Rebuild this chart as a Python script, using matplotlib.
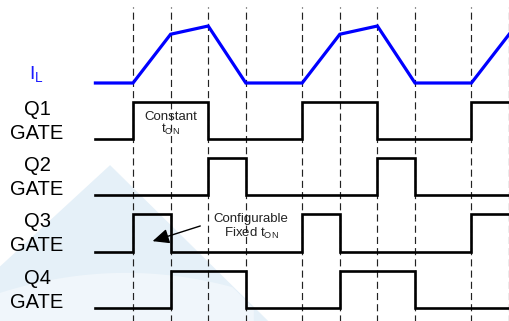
import numpy as np
import matplotlib.pyplot as plt
from matplotlib.patches import Polygon

plt.rcParams['font.family'] = ['Liberation Sans', 'DejaVu Sans']

# time axis: dashed marker positions (units of one switching step)
t_marks = [0, 1, 2, 3, 4.5, 5.5, 6.5, 7.5, 9, 10]
t_start, t_end = -1.0, 10.05

# inductor current (relative)
il_t = [-1, 0, 1, 2, 3, 4.5, 5.5, 6.5, 7.5, 9, 10.05]
il_v = [0, 0, 1.3, 1.52, 0, 0, 1.3, 1.52, 0, 0, 1.36]

# gate on-intervals
q1_on = [(0, 2), (4.5, 6.5), (9, t_end)]
q2_on = [(2, 3), (6.5, 7.5)]
q3_on = [(0, 1), (4.5, 5.5), (9, t_end)]
q4_on = [(1, 3), (5.5, 7.5)]

gates = [("Q1", q1_on), ("Q2", q2_on), ("Q3", q3_on), ("Q4", q4_on)]
row_gap = 1.5


def step_wave(on):
    xs, ys = [t_start], [0]
    for a, b in on:
        xs += [a, a, b, b]
        ys += [0, 1, 1, 0]
    if xs[-1] >= t_end:
        xs, ys = xs[:-1], ys[:-1]
    else:
        xs.append(t_end)
        ys.append(0)
    return np.array(xs), np.array(ys)


fig = plt.figure(figsize=(5.1, 3.21), dpi=100)
ax = fig.add_axes([0, 0, 1, 1])
px = 37.6
ax.set_xlim(-133 / px, (510 - 133) / px)
ax.set_ylim(-13 / 37.5, 308 / 37.5)
ax.axis('off')

# watermark
tri = Polygon([(-3.6, 1.05), (-0.61, 3.81), (3.75, -0.5), (-3.6, -0.5)],
              closed=True, color='#e5f0f8', zorder=0, lw=0)
ax.add_patch(tri)
arc_x = np.linspace(-3.6, 3.2, 60)
arc_y = 0.95 - 0.55 * ((arc_x + 0.2) / 3.4) ** 2
arc_y = np.minimum(arc_y, 3.81 - 1.0 * (arc_x + 0.61))
ax.fill_between(arc_x, -0.5, arc_y, color='#f0f6fb', zorder=0, lw=0)

# dashed time markers
for t in t_marks:
    ax.plot([t, t], [-0.5, 8.03], color='#222222', lw=0.85,
            dashes=(6, 3.5), zorder=2)

# inductor current
il_base = 4 * row_gap
ax.plot(il_t, np.array(il_v) + il_base, color='#0000ff', lw=2.3,
        solid_joinstyle='miter', zorder=3)
ax.text(-2.58, il_base + 0.22, r"I$_\mathregular{L}$", color='#1a1aff',
        fontsize=14, ha='center', va='center')

for i, (name, on) in enumerate(gates):
    base = (3 - i) * row_gap
    xs, ys = step_wave(on)
    ax.plot(xs, ys + base, color='black', lw=1.9, solid_joinstyle='miter',
            zorder=3)
    ax.text(-2.55, base + 0.8, name, fontsize=14.5, ha='center', va='center')
    ax.text(-2.55, base + 0.16, "GATE", fontsize=14.5, ha='center', va='center')

# annotations
ax.text(1.0, 5.09, "Constant", fontsize=9.5, ha='center', va='center',
        color='#222222', zorder=1)
ax.text(1.0, 4.75, r"t$_\mathregular{ON}$", fontsize=9.5, ha='center',
        va='center', color='#222222', zorder=1)
ax.text(3.14, 2.37, "Configurable", fontsize=9.5, ha='center', va='center',
        color='#222222', zorder=1)
ax.text(3.16, 2.0, r"Fixed t$_\mathregular{ON}$", fontsize=9.5, ha='center',
        va='center', color='#222222', zorder=1)
ax.annotate("", xy=(0.45, 1.76), xytext=(1.86, 2.21),
            arrowprops=dict(arrowstyle='-|>,head_length=1.0,head_width=0.45',
                            color='black', lw=1.0), zorder=4)

fig.savefig('out.png', dpi=100)
